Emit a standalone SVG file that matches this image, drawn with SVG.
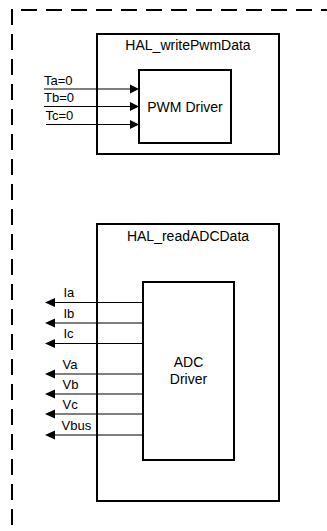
<svg xmlns="http://www.w3.org/2000/svg" width="327" height="531" viewBox="0 0 327 531">
<style>
.dash{fill:none;stroke:#000;stroke-width:2;stroke-dasharray:16 9}
.box{fill:#fff;stroke:#000;stroke-width:2}
.ln{stroke:#000;stroke-width:1.2;fill:none}
.ah{fill:#000}
.t{font-family:"Liberation Sans",Arial,sans-serif;fill:#000}
.title{font-size:14px;text-anchor:middle}
.lbl{font-size:13px}
</style>
<g id="border">
<line class="dash" x1="21" y1="10" x2="327" y2="10"/>
<line class="dash" x1="12" y1="9" x2="12" y2="531"/>
</g>
<g id="hal_write">
<rect class="box" x="97" y="34" width="182" height="120"/>
<text class="t title" x="188" y="49.5">HAL_writePwmData</text>
</g>
<g id="pwm_driver">
<rect class="box" x="139" y="70" width="92" height="73"/>
<text class="t title" x="185" y="112">PWM Driver</text>
</g>
<g id="hal_read">
<rect class="box" x="97" y="224" width="182" height="277"/>
<text class="t title" x="188" y="241">HAL_readADCData</text>
</g>
<g id="adc_driver">
<rect class="box" x="143" y="282" width="91" height="178"/>
<text class="t title" x="188.5" y="367">ADC</text>
<text class="t title" x="188.5" y="384">Driver</text>
</g>
<g id="connectors">
<line class="ln" x1="44" y1="89" x2="131" y2="89"/>
<polygon class="ah" points="139,89 130,84.5 130,93.5"/>
<line class="ln" x1="44" y1="106.5" x2="131" y2="106.5"/>
<polygon class="ah" points="139,106.5 130,102 130,111"/>
<line class="ln" x1="46" y1="124.5" x2="131" y2="124.5"/>
<polygon class="ah" points="139,124.5 130,120 130,129"/>
<line class="ln" x1="54" y1="302.5" x2="143" y2="302.5"/>
<polygon class="ah" points="45,302.5 55,298 55,307"/>
<line class="ln" x1="54" y1="323" x2="143" y2="323"/>
<polygon class="ah" points="45,323 55,318.5 55,327.5"/>
<line class="ln" x1="54" y1="343.5" x2="143" y2="343.5"/>
<polygon class="ah" points="45,343.5 55,339 55,348"/>
<line class="ln" x1="54" y1="374" x2="143" y2="374"/>
<polygon class="ah" points="45,374 55,369.5 55,378.5"/>
<line class="ln" x1="54" y1="394" x2="143" y2="394"/>
<polygon class="ah" points="45,394 55,389.5 55,398.5"/>
<line class="ln" x1="54" y1="414" x2="143" y2="414"/>
<polygon class="ah" points="45,414 55,409.5 55,418.5"/>
<line class="ln" x1="54" y1="435" x2="143" y2="435"/>
<polygon class="ah" points="45,435 55,430.5 55,439.5"/>
</g>
<g id="labels">
<text class="t lbl" x="44" y="85">Ta=0</text>
<text class="t lbl" x="44" y="101.5">Tb=0</text>
<text class="t lbl" x="45.5" y="119.5">Tc=0</text>
<text class="t lbl" x="63.5" y="297">Ia</text>
<text class="t lbl" x="63.5" y="317.5">Ib</text>
<text class="t lbl" x="63.5" y="338">Ic</text>
<text class="t lbl" x="62.5" y="368.5">Va</text>
<text class="t lbl" x="62.5" y="388.5">Vb</text>
<text class="t lbl" x="62.5" y="409">Vc</text>
<text class="t lbl" x="61.5" y="430">Vbus</text>
</g>
</svg>
